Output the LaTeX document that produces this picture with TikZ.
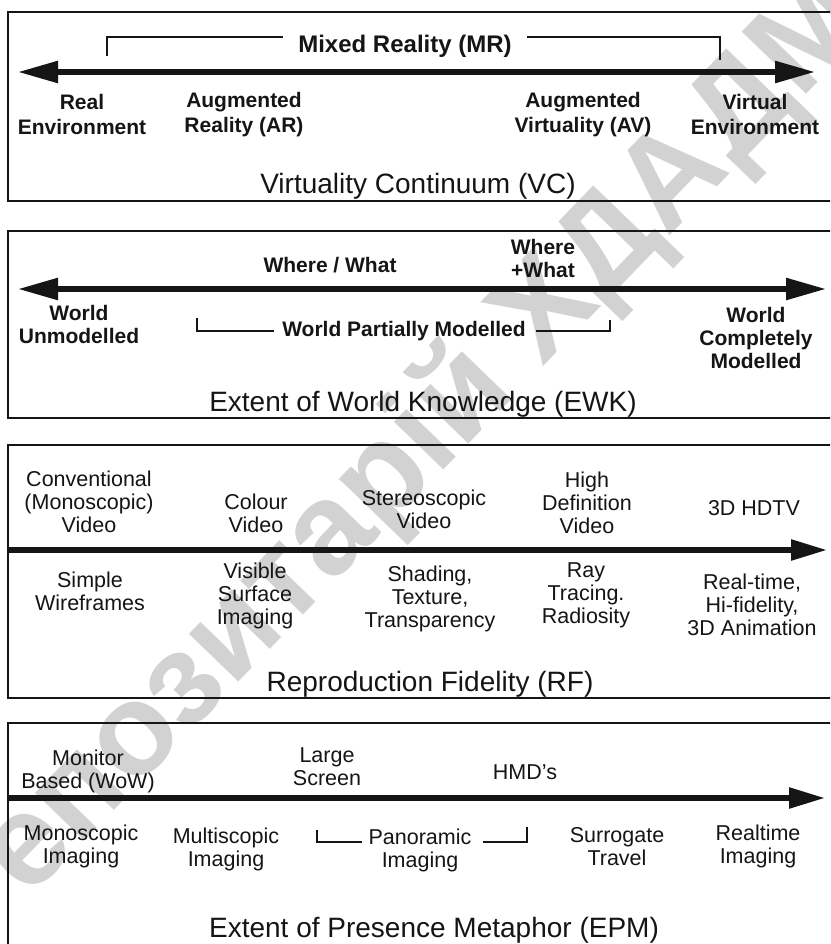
\documentclass[tikz,border=0pt]{standalone}
\usepackage{fontspec}
\setmainfont{Liberation Sans}
\usetikzlibrary{arrows.meta}
\definecolor{ink}{HTML}{151515}
\definecolor{wmark}{HTML}{D2D2D2}
\begin{document}
\begin{tikzpicture}[x=1pt,y=-1pt,
  lbl/.style={align=center,inner sep=0pt,text=ink,font=\fontsize{21.5}{23}\selectfont},
  lblb/.style={align=center,inner sep=0pt,text=ink,font=\fontsize{21}{23}\selectfont\bfseries},
  lblw/.style={align=center,inner sep=0pt,text=ink,font=\fontsize{21}{25}\selectfont\bfseries},
  ttl/.style={inner sep=0pt,text=ink,font=\fontsize{28}{30}\selectfont},
  frame/.style={draw=ink,line width=2.4pt},
  axis/.style={draw=ink,line width=5.5pt},
  bigtips/.style={{Triangle[length=40pt,width=21pt]}-{Triangle[length=40pt,width=21pt]}},
  midtip/.style={-{Triangle[length=36pt,width=20pt]}},
  brk/.style={draw=ink,line width=1.4pt}]
\useasboundingbox (0,0) rectangle (830,944);
\clip (0,0) rectangle (830,944);
\fill[white] (0,0) rectangle (830,944);
% watermark
\node[rotate=46,text=wmark,inner sep=0pt,font=\fontsize{130}{130}\selectfont\bfseries] (wm) at (398,467) {Репозитарій ХДАДМ};
% ---------- panel 1 ----------
\draw[frame] (850,12) -- (8,12) -- (8,201) -- (850,201);
\coordinate (p1l) at (18,72);
\coordinate (p1r) at (815,72);
\draw[axis,bigtips] (p1l) -- (p1r);
\node[inner sep=0pt,text=ink,font=\fontsize{24}{26}\selectfont\bfseries] (mr) at (405,46) {Mixed Reality (MR)};
\coordinate (mrl) at (107,56);
\coordinate (mrr) at (720,60);
\draw[brk] (mrl) -- (mrl |- 0,37) -- (283,37);
\draw[brk] (527,37) -- (mrr |- 0,37) -- (mrr);
\node[lblw] (re) at (82,114.5) {Real\\Environment};
\node[lblw] (ar) at (244,114.5) {Augmented\\Reality (AR)};
\node[lblw] (av) at (583,114.5) {Augmented\\Virtuality (AV)};
\node[lblw] (ve) at (755,114.5) {Virtual\\Environment};
\node[ttl] (vc) at (418,186) {Virtuality Continuum (VC)};
% ---------- panel 2 ----------
\draw[frame] (850,231) -- (8,231) -- (8,418) -- (850,418);
\coordinate (p2l) at (18,289);
\coordinate (p2r) at (826,289);
\draw[axis,bigtips] (p2l) -- (p2r);
\node[lblb] (ww) at (330,265) {Where / What};
\node[lblb] (wpw) at (543,258.5) {Where\\+What};
\node[lblb] (wu) at (79,324.5) {World\\Unmodelled};
\node[lblb] (wpm) at (404,331) {World Partially Modelled};
\coordinate (wpml) at (197,318);
\coordinate (wpmr) at (610,320);
\draw[brk] (wpml) -- (wpml |- 0,331) -- ([xshift=-8pt]wpm.west |- 0,331);
\draw[brk] ([xshift=10pt]wpm.east |- 0,331) -- (wpmr |- 0,331) -- (wpmr);
\node[lblb] (wcm) at (756,337.5) {World\\Completely\\Modelled};
\node[ttl] (ewk) at (423,404) {Extent of World Knowledge (EWK)};
% ---------- panel 3 ----------
\draw[frame] (850,445) -- (8,445) -- (8,698) -- (850,698);
\coordinate (p3l) at (8,550);
\coordinate (p3r) at (827,550);
\draw[axis,midtip] (p3l) -- (p3r);
\node[lbl] (cmv) at (89,502) {Conventional\\(Monoscopic)\\Video};
\node[lbl] (cv) at (256,513.5) {Colour\\Video};
\node[lbl] (sv) at (424,509.5) {Stereoscopic\\Video};
\node[lbl] (hdv) at (587,503) {High\\Definition\\Video};
\node[lbl] (hdtv) at (754,508) {3D HDTV};
\node[lbl] (sw) at (90,591.5) {Simple\\Wireframes};
\node[lbl] (vsi) at (255,596) {Visible\\Surface\\Imaging};
\node[lbl] (stt) at (430,598.5) {Shading,\\Texture,\\Transparency};
\node[lbl] (rtr) at (586,595) {Ray\\Tracing.\\Radiosity};
\node[lbl] (rha) at (752,605) {Real-time,\\Hi-fidelity,\\3D Animation};
\node[ttl] (rf) at (430,684) {Reproduction Fidelity (RF)};
% ---------- panel 4 ----------
\draw[frame] (8,960) -- (8,723) -- (850,723);
\coordinate (p4l) at (8,798);
\coordinate (p4r) at (825,798);
\draw[axis,midtip] (p4l) -- (p4r);
\node[lbl] (mb) at (88,771) {Monitor\\Based (WoW)};
\node[lbl] (ls) at (327,766.5) {Large\\Screen};
\node[lbl] (hmd) at (525,772) {HMD's};
\node[lbl] (mi) at (81,846.5) {Monoscopic\\Imaging};
\node[lbl] (mui) at (226,849) {Multiscopic\\Imaging};
\node[lbl] (pi) at (420,850.5) {Panoramic\\Imaging};
\coordinate (pil) at (317,830);
\coordinate (pir) at (527,827);
\draw[brk] (pil) -- (pil |- 0,842) -- (362,842);
\draw[brk] (483,842) -- (pir |- 0,842) -- (pir);
\node[lbl] (st) at (617,847) {Surrogate\\Travel};
\node[lbl] (rti) at (758,846.5) {Realtime\\Imaging};
\node[ttl] (epm) at (434,930) {Extent of Presence Metaphor (EPM)};
\end{tikzpicture}
\end{document}
